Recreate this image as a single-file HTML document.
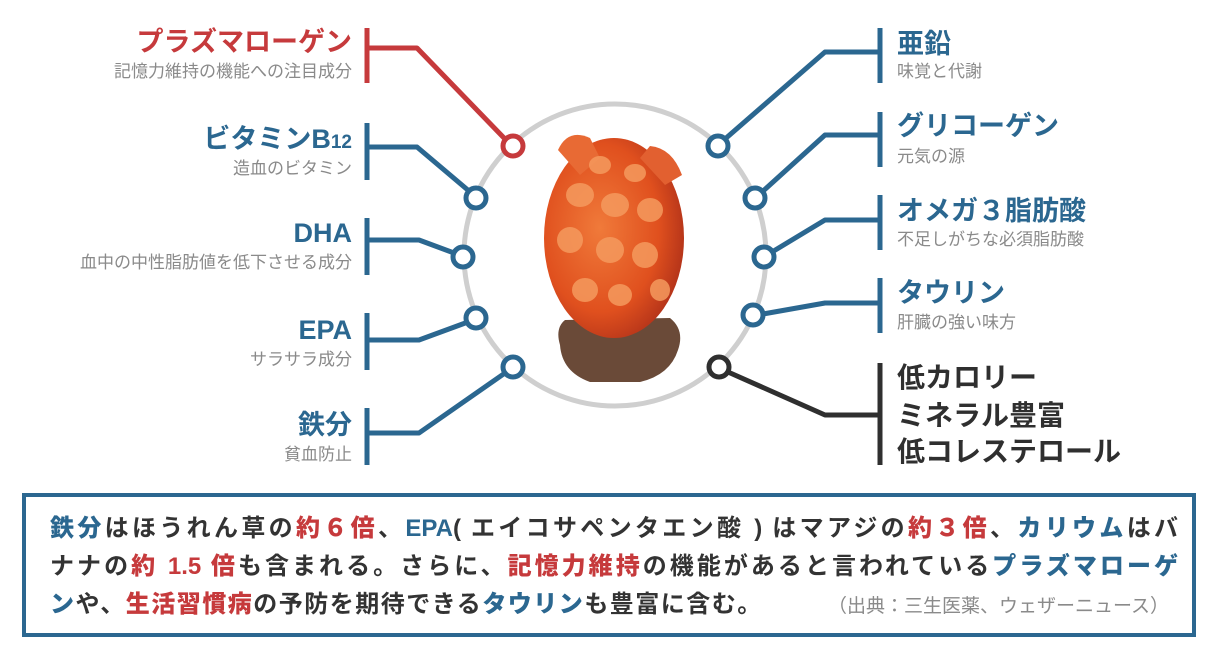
<!DOCTYPE html>
<html><head><meta charset="utf-8"><style>
body{margin:0;width:1218px;height:658px;background:#fff;overflow:hidden;position:relative;font-family:"Liberation Sans","Noto Sans CJK JP",sans-serif;}
.t{position:absolute;font-weight:bold;white-space:nowrap;line-height:1;}
.r{text-align:right;}
.ti{font-size:27px;}
.su{font-size:17px;color:#8a8a8a;font-weight:normal;}
.red{color:#c63a3c}.blue{color:#2b6790}.blk{color:#2f2f2f}
#box{position:absolute;left:22px;top:493px;width:1166px;height:136px;border:4px solid #2b6790;}
.ln{position:absolute;left:24px;width:1128px;font-size:24px;font-weight:bold;color:#333;text-align:justify;text-align-last:justify;white-space:nowrap;line-height:1;}
.ln b.r{color:#c63a3c}.ln b.b{color:#2b6790}
</style></head><body>
<svg width="1218" height="658" style="position:absolute;left:0;top:0">
<defs>
<radialGradient id="g" cx="0.4" cy="0.45" r="0.6"><stop offset="0" stop-color="#f07a3a"/><stop offset="0.7" stop-color="#e0501e"/><stop offset="1" stop-color="#b8361a"/></radialGradient>
</defs>
<circle cx="615" cy="255" r="151" fill="none" stroke="#cfcfcf" stroke-width="5"/>
<path d="M560 345 Q555 328 565 320 L670 318 Q685 330 678 350 Q670 375 640 382 L590 382 Q562 372 560 345Z" fill="#6a4a38"/>
<ellipse cx="614" cy="238" rx="70" ry="100" fill="url(#g)"/>
<path d="M558 150 Q568 128 590 138 L600 158 L580 175Z" fill="#e86a34"/>
<path d="M640 158 L650 146 Q672 148 682 175 L665 185Z" fill="#e26030"/>
<g fill="#f59a5e" opacity="0.85">
<ellipse cx="580" cy="195" rx="14" ry="12"/><ellipse cx="615" cy="205" rx="14" ry="12"/><ellipse cx="650" cy="210" rx="13" ry="12"/>
<ellipse cx="570" cy="240" rx="13" ry="13"/><ellipse cx="610" cy="250" rx="14" ry="13"/><ellipse cx="645" cy="255" rx="13" ry="13"/>
<ellipse cx="585" cy="290" rx="13" ry="12"/><ellipse cx="620" cy="295" rx="12" ry="11"/><ellipse cx="660" cy="290" rx="10" ry="11"/>
<ellipse cx="600" cy="165" rx="11" ry="9"/><ellipse cx="635" cy="173" rx="11" ry="9"/>
</g>
<g fill="none" stroke-width="5" stroke-linejoin="round">
<g stroke="#c63a3c"><path d="M367 28V83M367 48H417L505 139"/><circle cx="513" cy="146" r="10" fill="#fff"/></g>
<g stroke="#2b6790">
<path d="M367 123V180M367 147H417L469 191"/><circle cx="476" cy="198" r="10" fill="#fff"/>
<path d="M367 218V275M367 240H419L454 253"/><circle cx="463" cy="257" r="10" fill="#fff"/>
<path d="M367 313V370M367 340H419L468 322"/><circle cx="476" cy="318" r="10" fill="#fff"/>
<path d="M367 408V465M367 433H419L505 373"/><circle cx="513" cy="367" r="10" fill="#fff"/>
<path d="M880 28V83M880 52H825L725 139"/><circle cx="718" cy="146" r="10" fill="#fff"/>
<path d="M880 112V167M880 135H825L762 192"/><circle cx="755" cy="198" r="10" fill="#fff"/>
<path d="M880 195V250M880 220H825L772 252"/><circle cx="764" cy="257" r="10" fill="#fff"/>
<path d="M880 278V333M880 303H825L763 314"/><circle cx="753" cy="315" r="10" fill="#fff"/>
</g>
<g stroke="#2f2f2f"><path d="M880 363V465M880 415H825L728 372"/><circle cx="719" cy="367" r="10" fill="#fff"/></g>
</g>
</svg>
<div class="t r ti red" style="right:866px;top:29px">プラズマローゲン</div>
<div class="t r su" style="right:866px;top:63px">記憶力維持の機能への注目成分</div>
<div class="t r ti blue" style="right:866px;top:126px">ビタミンB<span style="font-size:19px">12</span></div>
<div class="t r su" style="right:866px;top:160px">造血のビタミン</div>
<div class="t r ti blue" style="right:866px;top:220px">DHA</div>
<div class="t r su" style="right:866px;top:254px">血中の中性脂肪値を低下させる成分</div>
<div class="t r ti blue" style="right:866px;top:317px">EPA</div>
<div class="t r su" style="right:866px;top:351px">サラサラ成分</div>
<div class="t r ti blue" style="right:866px;top:412px">鉄分</div>
<div class="t r su" style="right:866px;top:446px">貧血防止</div>
<div class="t ti blue" style="left:897px;top:31px">亜鉛</div>
<div class="t su" style="left:897px;top:63px">味覚と代謝</div>
<div class="t ti blue" style="left:897px;top:113px">グリコーゲン</div>
<div class="t su" style="left:897px;top:148px">元気の源</div>
<div class="t ti blue" style="left:897px;top:198px">オメガ３脂肪酸</div>
<div class="t su" style="left:897px;top:231px">不足しがちな必須脂肪酸</div>
<div class="t ti blue" style="left:897px;top:280px">タウリン</div>
<div class="t su" style="left:897px;top:314px">肝臓の強い味方</div>
<div class="t blk" style="left:897px;top:364px;font-size:28px">低カロリー</div>
<div class="t blk" style="left:897px;top:402px;font-size:28px">ミネラル豊富</div>
<div class="t blk" style="left:897px;top:438px;font-size:28px">低コレステロール</div>
<div id="box">
<div class="ln" style="top:20px"><b class="b">鉄分</b>はほうれん草の<b class="r">約６倍</b>、<b class="b">EPA</b>( エイコサペンタエン酸 ) はマアジの<b class="r">約３倍</b>、<b class="b">カリウム</b>はバ</div>
<div class="ln" style="top:58px">ナナの<b class="r">約 1.5 倍</b>も含まれる。さらに、<b class="r">記憶力維持</b>の機能があると言われている<b class="b">プラズマローゲ</b></div>
<div class="ln" style="top:96px;width:auto;text-align:left;text-align-last:auto;letter-spacing:1.5px"><b class="b">ン</b>や、<b class="r">生活習慣病</b>の予防を期待できる<b class="b">タウリン</b>も豊富に含む。</div>
<div class="t" style="left:802px;top:100px;font-size:19px;color:#8a8a8a;font-weight:normal">（出典：三生医薬、ウェザーニュース）</div>
</div>
</body></html>
